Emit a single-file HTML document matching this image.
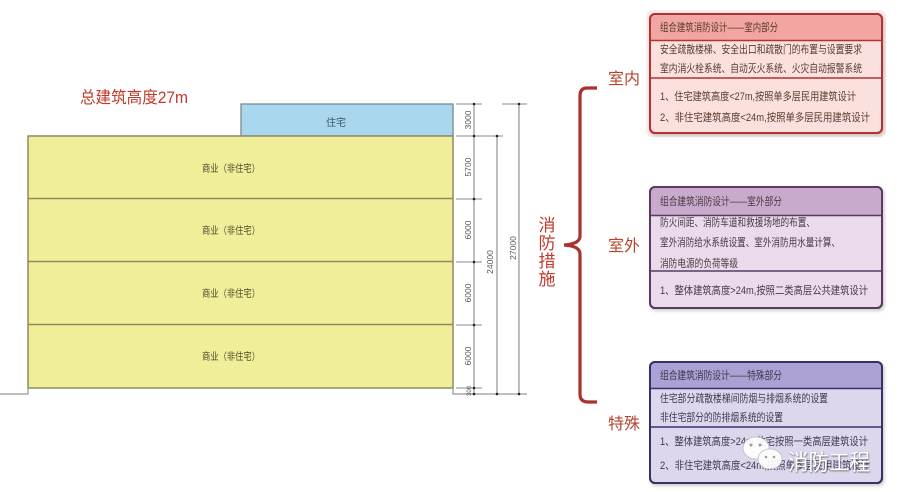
<!DOCTYPE html>
<html><head><meta charset="utf-8"><style>
html,body{margin:0;padding:0;background:#fff;}
svg{display:block;}
text{font-family:"Liberation Sans","Noto Sans CJK SC",sans-serif;}
</style></head><body>
<svg width="900" height="492" viewBox="0 0 900 492" xmlns="http://www.w3.org/2000/svg">
<defs>
<filter id="sh" x="-5%" y="-5%" width="112%" height="115%">
<feDropShadow dx="1.5" dy="2" stdDeviation="1.5" flood-color="#999" flood-opacity="0.5"/>
</filter>
<filter id="ws" x="-10%" y="-20%" width="130%" height="150%">
<feDropShadow dx="0.5" dy="0.8" stdDeviation="0.8" flood-color="#333" flood-opacity="0.8"/>
</filter>
</defs>

<!-- title -->
<text x="80" y="103" font-size="16.5" fill="#c0392b" textLength="108" lengthAdjust="spacingAndGlyphs">总建筑高度27m</text>

<!-- building -->
<rect x="241" y="104" width="212" height="32" fill="#a9d8ee" stroke="#7a8a8a" stroke-width="1.3"/>
<rect x="28" y="136" width="425" height="252" fill="#f0ee98" stroke="#8c8c66" stroke-width="1.5"/>
<line x1="28" y1="198.5" x2="453" y2="198.5" stroke="#8c8c5a" stroke-width="1.5"/>
<line x1="28" y1="261.5" x2="453" y2="261.5" stroke="#8c8c5a" stroke-width="1.5"/>
<line x1="28" y1="324.5" x2="453" y2="324.5" stroke="#8c8c5a" stroke-width="1.5"/>
<!-- ground -->
<polyline points="0,394 28,394 28,388" fill="none" stroke="#999" stroke-width="1.2"/>
<polyline points="453,388 453,394 527,394" fill="none" stroke="#999" stroke-width="1.2"/>

<g font-size="10" fill="#4d4d2a">
<text x="336" y="126" text-anchor="middle" fill="#3c5a66">住宅</text>
<text x="231" y="172" text-anchor="middle" textLength="58" lengthAdjust="spacingAndGlyphs">商业（非住宅）</text>
<text x="231" y="234" text-anchor="middle" textLength="58" lengthAdjust="spacingAndGlyphs">商业（非住宅）</text>
<text x="231" y="297" text-anchor="middle" textLength="58" lengthAdjust="spacingAndGlyphs">商业（非住宅）</text>
<text x="231" y="360" text-anchor="middle" textLength="58" lengthAdjust="spacingAndGlyphs">商业（非住宅）</text>
</g>

<!-- dimensions -->
<g stroke="#8a8a8a" stroke-width="1.1" fill="none">
<line x1="456" y1="104" x2="482" y2="104"/>
<line x1="456" y1="136" x2="482" y2="136"/>
<line x1="456" y1="199" x2="482" y2="199"/>
<line x1="456" y1="262" x2="482" y2="262"/>
<line x1="456" y1="325" x2="482" y2="325"/>
<line x1="456" y1="388" x2="482" y2="388"/>
<line x1="474" y1="104" x2="474" y2="394"/>
<line x1="476" y1="136" x2="503" y2="136"/>
<line x1="497" y1="136" x2="497" y2="394"/>
<line x1="502" y1="104" x2="527" y2="104"/>
<line x1="519" y1="104" x2="519" y2="394"/>
</g>
<g fill="#222">
<circle cx="474" cy="104" r="1.3"/><circle cx="474" cy="136" r="1.3"/><circle cx="474" cy="199" r="1.3"/>
<circle cx="474" cy="262" r="1.3"/><circle cx="474" cy="325" r="1.3"/><circle cx="474" cy="388" r="1.3"/>
<circle cx="474" cy="394" r="1.3"/><circle cx="497" cy="136" r="1.3"/><circle cx="497" cy="394" r="1.3"/>
<circle cx="519" cy="104" r="1.3"/><circle cx="519" cy="394" r="1.3"/>
</g>
<g font-size="8.5" fill="#555" text-anchor="middle">
<text transform="translate(471,120) rotate(-90)">3000</text>
<text transform="translate(471,167) rotate(-90)">5700</text>
<text transform="translate(471,230) rotate(-90)">6000</text>
<text transform="translate(471,293) rotate(-90)">6000</text>
<text transform="translate(471,356) rotate(-90)">6000</text>
<text transform="translate(471,391) rotate(-90)" font-size="6">300</text>
<text transform="translate(493,262) rotate(-90)">24000</text>
<text transform="translate(516,248) rotate(-90)">27000</text>
</g>

<!-- 消防措施 -->
<g font-size="17" fill="#c0392b" text-anchor="middle">
<text x="547" y="231">消</text>
<text x="547" y="249">防</text>
<text x="547" y="267">措</text>
<text x="547" y="285">施</text>
</g>

<!-- brace -->
<path d="M597,88 L587,88 Q580,88 580,96 L580,236 Q580,244 564,245 Q580,246 580,254 L580,394 Q580,402 588,402 L597,402" fill="none" stroke="#a8322c" stroke-width="3.2"/>

<g font-size="16" fill="#b5452f">
<text x="608" y="84">室内</text>
<text x="608" y="251">室外</text>
<text x="608" y="429">特殊</text>
</g>

<!-- Box 1 -->
<rect x="646" y="10" width="240" height="127" rx="6" fill="#fbecea"/>
<g filter="url(#sh)">
<rect x="650" y="14" width="232" height="119" rx="5" fill="#fbe1dd" stroke="#b03236" stroke-width="2"/>
</g>
<path d="M651,40 L651,20 Q651,15 656,15 L876,15 Q881,15 881,20 L881,40 Z" fill="#f2a6a2"/>
<line x1="651" y1="40.5" x2="881" y2="40.5" stroke="#b03236" stroke-width="1.6"/>
<line x1="651" y1="78" x2="881" y2="78" stroke="#b03236" stroke-width="1.6"/>
<rect x="650" y="14" width="232" height="119" rx="5" fill="none" stroke="#b03236" stroke-width="2"/>
<g font-size="11" fill="#5a3a30">
<text x="660" y="31" textLength="118" lengthAdjust="spacingAndGlyphs">组合建筑消防设计——室内部分</text>
<text x="660" y="53" textLength="202" lengthAdjust="spacingAndGlyphs">安全疏散楼梯、安全出口和疏散门的布置与设置要求</text>
<text x="660" y="72" textLength="202" lengthAdjust="spacingAndGlyphs">室内消火栓系统、自动灭火系统、火灾自动报警系统</text>
<text x="660" y="100" textLength="196" lengthAdjust="spacingAndGlyphs">1、住宅建筑高度&lt;27m,按照单多层民用建筑设计</text>
<text x="660" y="121" textLength="210" lengthAdjust="spacingAndGlyphs">2、非住宅建筑高度&lt;24m,按照单多层民用建筑设计</text>
</g>

<!-- Box 2 -->
<g filter="url(#sh)">
<rect x="650" y="187" width="232" height="121" rx="5" fill="#eadaeb" stroke="#5a3a62" stroke-width="2"/>
</g>
<path d="M651,215 L651,193 Q651,188 656,188 L876,188 Q881,188 881,193 L881,215 Z" fill="#c9aacd"/>
<line x1="651" y1="215.5" x2="881" y2="215.5" stroke="#5a3a62" stroke-width="1.6"/>
<line x1="651" y1="271" x2="881" y2="271" stroke="#5a3a62" stroke-width="1.6"/>
<rect x="650" y="187" width="232" height="121" rx="5" fill="none" stroke="#5a3a62" stroke-width="2"/>
<g font-size="11" fill="#4a3a44">
<text x="660" y="205" textLength="122" lengthAdjust="spacingAndGlyphs">组合建筑消防设计——室外部分</text>
<text x="660" y="226" textLength="155" lengthAdjust="spacingAndGlyphs">防火间距、消防车道和救援场地的布置、</text>
<text x="660" y="246" textLength="180" lengthAdjust="spacingAndGlyphs">室外消防给水系统设置、室外消防用水量计算、</text>
<text x="660" y="267" textLength="78" lengthAdjust="spacingAndGlyphs">消防电源的负荷等级</text>
<text x="660" y="294" textLength="208" lengthAdjust="spacingAndGlyphs">1、整体建筑高度&gt;24m,按照二类高层公共建筑设计</text>
</g>

<!-- Box 3 -->
<g filter="url(#sh)">
<rect x="650" y="362" width="232" height="121" rx="5" fill="#ddd7ee" stroke="#3a3068" stroke-width="2"/>
</g>
<path d="M651,388 L651,368 Q651,363 656,363 L876,363 Q881,363 881,368 L881,388 Z" fill="#aba1d4"/>
<line x1="651" y1="388.5" x2="881" y2="388.5" stroke="#3a3068" stroke-width="1.6"/>
<line x1="651" y1="427" x2="881" y2="427" stroke="#3a3068" stroke-width="1.6"/>
<rect x="650" y="362" width="232" height="121" rx="5" fill="none" stroke="#3a3068" stroke-width="2"/>
<g font-size="11" fill="#3e3a50">
<text x="660" y="379" textLength="122" lengthAdjust="spacingAndGlyphs">组合建筑消防设计——特殊部分</text>
<text x="660" y="402" textLength="168" lengthAdjust="spacingAndGlyphs">住宅部分疏散楼梯间防烟与排烟系统的设置</text>
<text x="660" y="421" textLength="123" lengthAdjust="spacingAndGlyphs">非住宅部分的防排烟系统的设置</text>
<text x="660" y="445" textLength="208" lengthAdjust="spacingAndGlyphs">1、整体建筑高度&gt;24m,住宅按照一类高层建筑设计</text>
<text x="660" y="469" textLength="210" lengthAdjust="spacingAndGlyphs">2、非住宅建筑高度&lt;24m,按照单多层民用建筑设计</text>
</g>

<!-- watermark -->
<g opacity="0.92">
<ellipse cx="756" cy="448" rx="13" ry="11" fill="#fff" stroke="#bbb" stroke-width="0.8"/>
<ellipse cx="770" cy="459" rx="12" ry="10" fill="#fff" stroke="#bbb" stroke-width="0.8"/>
<circle cx="751" cy="445" r="1.5" fill="#999"/><circle cx="760" cy="445" r="1.5" fill="#999"/>
<circle cx="766" cy="457" r="1.3" fill="#999"/><circle cx="774" cy="457" r="1.3" fill="#999"/>
</g>
<text x="788" y="470" font-size="22" fill="#fff" filter="url(#ws)" textLength="82" lengthAdjust="spacingAndGlyphs">消防工程</text>
</svg>
</body></html>
